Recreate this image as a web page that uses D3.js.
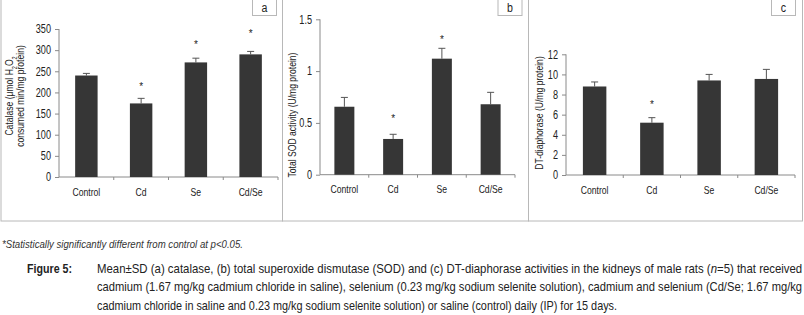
<!DOCTYPE html>
<html>
<head>
<meta charset="utf-8">
<script src="https://cdn.jsdelivr.net/npm/d3@7"></script>
<style>
  body { margin: 0; background: #fff; }
  svg { display: block; font-family: "Liberation Sans", Arial, sans-serif; }
</style>
</head>
<body>
<div id="chart"></div>
<script>
const categories = ["Control", "Cd", "Se", "Cd/Se"];

// (a) catalase
const catalaseMean = [240, 174, 271, 290];
const catalaseSD = [5, 12, 10, 7];
const catalaseStar = [null, 217, 317, 343];
const catalaseTicks = [0, 50, 100, 150, 200, 250, 300, 350];

// (b) total SOD
const sodMean = [0.656, 0.345, 1.12, 0.68];
const sodSD = [0.09, 0.045, 0.1, 0.115];
const sodStar = [null, 0.554, 1.322, null];
const sodTicks = [0, 0.5, 1, 1.5];

// (c) DT-diaphorase
const dtMean = [8.8, 5.2, 9.4, 9.55];
const dtSD = [0.45, 0.5, 0.6, 0.95];
const dtStar = [null, 7.13, null, null];
const dtTicks = [0, 2, 4, 6, 8, 10, 12];

const width = 804, height = 315;

// no narrow font installed: squeeze glyphs horizontally
function condense(sel, k) {
  sel.each(function() {
    const len = this.getComputedTextLength();
    d3.select(this).attr("textLength", len * k).attr("lengthAdjust", "spacingAndGlyphs");
  });
}

const svg = d3.select("#chart").append("svg")
  .attr("width", width)
  .attr("height", height);

svg.append("rect").attr("width", width).attr("height", height).attr("fill", "#fff");

const panels = [
  { letter: "a", mean: catalaseMean, sd: catalaseSD, star: catalaseStar, ticks: catalaseTicks,
    max: 350, left: 1, right: 282.5, x0: 59, x1: 278, y0: 177, y1: 29, box: 252,
    label: ["Catalase (μmol H", "consumed min/mg protein)"], labelX: [13, 24], labelY: 96 },
  { letter: "b", mean: sodMean, sd: sodSD, star: sodStar, ticks: sodTicks,
    max: 1.5, left: 282.5, right: 528.5, x0: 320, x1: 515, y0: 174.7, y1: 19.3, box: 497.5,
    label: ["Total SOD activity (U/mg protein)"], labelX: [296], labelY: 115 },
  { letter: "c", mean: dtMean, sd: dtSD, star: dtStar, ticks: dtTicks,
    max: 12, left: 528.5, right: 802.5, x0: 566, x1: 795, y0: 175, y1: 54.3, box: 771,
    label: ["DT-diaphorase (U/mg protein)"], labelX: [543], labelY: 113 }
];

const fmt = d => d3.format("~g")(d);

panels.forEach(p => {
  const g = svg.append("g");

  // panel frame
  g.append("rect")
    .attr("x", p.left).attr("y", -2)
    .attr("width", p.right - p.left).attr("height", 223)
    .attr("fill", "none").attr("stroke", "#b8b8b8");

  // letter box
  g.append("rect")
    .attr("x", p.box + 0.5).attr("y", -2)
    .attr("width", 24).attr("height", 17.5)
    .attr("fill", "#fff").attr("stroke", "#b8b8b8");
  g.append("text")
    .attr("x", p.box + 12.5).attr("y", 11.5)
    .attr("text-anchor", "middle")
    .attr("font-size", 12.5).attr("fill", "#222")
    .text(p.letter)
    .call(condense, 0.85);

  const x = d3.scaleBand().domain(categories).range([p.x0, p.x1]).padding(0);
  const y = d3.scaleLinear().domain([0, p.max]).range([p.y0, p.y1]);
  const bw = x.bandwidth() * 0.41;

  // y axis
  const yAxis = g.append("g")
    .attr("transform", `translate(${p.x0},0)`)
    .call(d3.axisLeft(y).tickValues(p.ticks).tickFormat(fmt).tickSize(4).tickPadding(4));
  yAxis.select(".domain").attr("stroke", "#8a8a8a").attr("d", `M0,${p.y0}V${p.y1}`);
  yAxis.selectAll(".tick line").attr("stroke", "#8a8a8a");
  yAxis.selectAll(".tick text")
    .attr("font-size", 12).attr("fill", "#222")
    .attr("font-family", "\"Liberation Sans\", sans-serif")
    .call(condense, 0.76);

  // x axis with ticks at category boundaries
  const xAxis = g.append("g").attr("transform", `translate(0,${p.y0})`);
  xAxis.append("line")
    .attr("x1", p.x0).attr("x2", p.x1)
    .attr("stroke", "#8a8a8a");
  xAxis.selectAll(".bt")
    .data(categories)
    .join("line")
    .attr("class", "bt")
    .attr("x1", d => x(d) + x.bandwidth()).attr("x2", d => x(d) + x.bandwidth())
    .attr("y1", 0).attr("y2", 3)
    .attr("stroke", "#8a8a8a");
  xAxis.selectAll(".cl")
    .data(categories)
    .join("text")
    .attr("class", "cl")
    .attr("x", d => x(d) + x.bandwidth() / 2)
    .attr("y", 18.5)
    .attr("text-anchor", "middle")
    .attr("font-size", 11.5).attr("fill", "#222")
    .text(d => d)
    .call(condense, 0.75);

  const rows = categories.map((c, i) => ({ c, m: p.mean[i], s: p.sd[i], star: p.star[i] }));

  // error bars (upper only)
  g.selectAll(".err")
    .data(rows)
    .join("path")
    .attr("class", "err")
    .attr("d", d => {
      const cx = x(d.c) + x.bandwidth() / 2;
      return `M${cx},${y(d.m)}V${y(d.m + d.s)}M${cx - 3.5},${y(d.m + d.s)}H${cx + 3.5}`;
    })
    .attr("fill", "none").attr("stroke", "#555").attr("stroke-width", 1);

  // bars
  g.selectAll(".bar")
    .data(rows)
    .join("rect")
    .attr("class", "bar")
    .attr("x", d => x(d.c) + (x.bandwidth() - bw) / 2)
    .attr("width", bw)
    .attr("y", d => y(d.m))
    .attr("height", d => y(0) - y(d.m))
    .attr("fill", "#363636");

  // significance stars
  g.selectAll(".star")
    .data(rows.filter(d => d.star !== null))
    .join("text")
    .attr("class", "star")
    .attr("x", d => x(d.c) + x.bandwidth() / 2)
    .attr("y", d => y(d.star) + 5)
    .attr("text-anchor", "middle")
    .attr("font-size", 10).attr("fill", "#222")
    .text("*");

  // y label
  p.label.forEach((t, i) => {
    const tx = g.append("text")
      .attr("transform", `translate(${p.labelX[i]},${p.labelY}) rotate(-90)`)
      .attr("text-anchor", "middle")
      .attr("font-size", 11).attr("fill", "#222");
    if (p.letter === "a" && i === 0) {
      tx.append("tspan").text(t);
      tx.append("tspan").attr("baseline-shift", "sub").attr("font-size", 7).text("2");
      tx.append("tspan").text("O");
      tx.append("tspan").attr("baseline-shift", "sub").attr("font-size", 7).text("2");
    } else {
      tx.text(t);
    }
    tx.call(condense, 0.78);
  });
});

// footnote
svg.append("text")
  .attr("x", 2).attr("y", 247.5)
  .attr("font-size", 10).attr("font-style", "italic").attr("fill", "#333")
  .text("*Statistically significantly different from control at p<0.05.")
  .attr("textLength", 241).attr("lengthAdjust", "spacingAndGlyphs");

// caption
svg.append("text")
  .attr("x", 27).attr("y", 272.5)
  .attr("font-size", 12.5).attr("font-weight", "bold").attr("fill", "#222")
  .text("Figure 5:")
  .attr("textLength", 45).attr("lengthAdjust", "spacingAndGlyphs");

const captionLines = [
  "Mean±SD (a) catalase, (b) total superoxide dismutase (SOD) and (c) DT-diaphorase activities in the kidneys of male rats (n=5) that received",
  "cadmium (1.67 mg/kg cadmium chloride in saline), selenium (0.23 mg/kg sodium selenite solution), cadmium and selenium (Cd/Se; 1.67 mg/kg",
  "cadmium chloride in saline and 0.23 mg/kg sodium selenite solution) or saline (control) daily (IP) for 15 days."
];
const captionWidths = [706, 706, 521];

// fit each caption line to its width with a horizontal scale
svg.selectAll(".cap")
  .data(captionLines)
  .join("text")
  .attr("class", "cap")
  .attr("font-size", 12.5).attr("fill", "#222")
  .each(function(d, i) {
    const t = d3.select(this);
    if (i === 0) {
      const parts = d.split("(n=5)");
      t.append("tspan").text(parts[0] + "(");
      t.append("tspan").attr("font-style", "italic").text("n");
      t.append("tspan").text("=5)" + parts[1]);
    } else {
      t.text(d);
    }
    const k = captionWidths[i] / this.getComputedTextLength();
    t.attr("transform", `translate(97,${272.5 + i * 18.5}) scale(${k},1)`);
  });
</script>
</body>
</html>
